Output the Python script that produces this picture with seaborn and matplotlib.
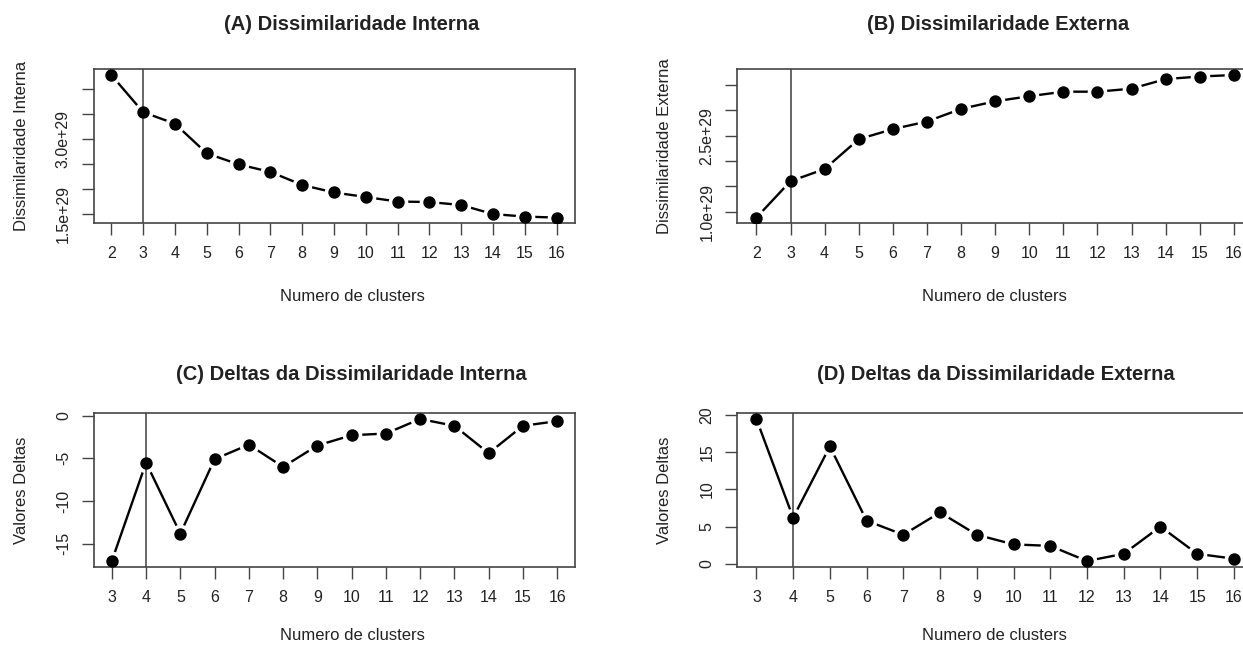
import numpy as np
import pandas as pd
import matplotlib
matplotlib.use("Agg")
import matplotlib.pyplot as plt
import seaborn as sns

# -------------------------------
# Data
# -------------------------------
k_diss = list(range(2, 17))
diss_interna = [4.27e29, 3.53e29, 3.30e29, 2.71e29, 2.49e29, 2.34e29, 2.08e29, 1.93e29,
                1.84e29, 1.75e29, 1.74e29, 1.68e29, 1.50e29, 1.45e29, 1.43e29]
diss_externa = [0.88e29, 1.60e29, 1.84e29, 2.43e29, 2.63e29, 2.78e29, 3.03e29, 3.18e29,
                3.28e29, 3.37e29, 3.37e29, 3.43e29, 3.62e29, 3.67e29, 3.70e29]

k_delta = list(range(3, 17))
delta_interna = [-17.0, -5.5, -13.8, -5.1, -3.4, -6.0, -3.5, -2.3, -2.1, -0.4, -1.2, -4.4, -1.2, -0.65]
delta_externa = [19.5, 6.2, 15.8, 5.8, 3.9, 6.9, 3.9, 2.6, 2.4, 0.36, 1.33, 5.0, 1.33, 0.67]

titles = ["(A) Dissimilaridade Interna", "(B) Dissimilaridade Externa",
          "(C) Deltas da Dissimilaridade Interna", "(D) Deltas da Dissimilaridade Externa"]
ylabels = ["Dissimilaridade Interna", "Dissimilaridade Externa", "Valores Deltas", "Valores Deltas"]
xlabel = "Numero de clusters"
corte = [3, 3, 4, 4]

yticks_a = [1.5e29, 2.0e29, 2.5e29, 3.0e29, 3.5e29, 4.0e29]
yticklabels_a = ["1.5e+29", "", "", "3.0e+29", "", ""]
yticks_b = [1.0e29, 1.5e29, 2.0e29, 2.5e29, 3.0e29, 3.5e29]
yticklabels_b = ["1.0e+29", "", "", "2.5e+29", "", ""]
yticks_c = [-15, -10, -5, 0]
yticks_d = [0, 5, 10, 15, 20]

# -------------------------------
# Style
# -------------------------------
sns.set_style("ticks")
plt.rcParams["font.family"] = ["Liberation Sans", "DejaVu Sans"]
txt = "#222222"
edge = "#444444"

W, H = 1243, 647
fig = plt.figure(figsize=(W / 100, H / 100), dpi=100)

def box(l, r, t, b):
    return [l / W, 1 - b / H, (r - l) / W, (b - t) / H]

boxes = [box(93.5, 574.5, 69.3, 223.3), box(737.3, 1253, 69.3, 223.3),
         box(94, 575, 413.3, 566.7), box(737.3, 1253, 413.3, 566.7)]
title_pos = [(351.5, 25), (998, 25), (351.5, 375), (996, 375)]
xlabel_pos = [(352, 296), (994, 296), (352, 636), (994, 636)]

series = [(k_diss, diss_interna), (k_diss, diss_externa),
          (k_delta, delta_interna), (k_delta, delta_externa)]
ytick_sets = [(yticks_a, yticklabels_a), (yticks_b, yticklabels_b),
              (yticks_c, [str(v) for v in yticks_c]), (yticks_d, [str(v) for v in yticks_d])]
ylabel_x = [21.5, 664, 21.5, 664]

for i in range(4):
    ax = fig.add_axes(boxes[i])
    xs, ys = series[i]
    df = pd.DataFrame({"k": xs, "v": ys})

    # type="b" look: line, white halo round each point, then the dot
    sns.lineplot(data=df, x="k", y="v", ax=ax, color="black", linewidth=1.7, zorder=1)
    sns.scatterplot(data=df, x="k", y="v", ax=ax, color="white", s=200, linewidth=0, zorder=1.5)
    ax.axvline(corte[i], color="#666666", linewidth=1.4, zorder=2)
    sns.scatterplot(data=df, x="k", y="v", ax=ax, color="black", s=80, linewidth=0, zorder=3)

    ax.margins(x=0.04, y=0.04)
    ax.set_xticks(xs)
    ax.set_xticklabels([str(k) for k in xs])
    ax.set_yticks(ytick_sets[i][0])
    ax.set_yticklabels(ytick_sets[i][1], rotation=90, va="center")
    ax.tick_params(axis="both", direction="out", length=8.5, width=1.0, color=edge,
                   labelsize=11.5, labelcolor=txt, pad=8)
    for s in ax.spines.values():
        s.set_visible(True)
        s.set_color(edge)
        s.set_linewidth(1.2)
    ax.set_xlabel("")
    ax.set_ylabel("")
    ax.set_facecolor("white")

    fig.text(title_pos[i][0] / W, 1 - title_pos[i][1] / H, titles[i], ha="center", va="center",
             fontsize=14.5, fontweight="bold", color=txt)
    fig.text(xlabel_pos[i][0] / W, 1 - xlabel_pos[i][1] / H, xlabel, ha="center", va="center",
             fontsize=12, color=txt)
    yc = (boxes[i][1] + boxes[i][3] / 2)
    fig.text(ylabel_x[i] / W, yc, ylabels[i], ha="center", va="center", rotation=90,
             fontsize=12, color=txt)

fig.savefig("out.png", dpi=100, facecolor="white")
